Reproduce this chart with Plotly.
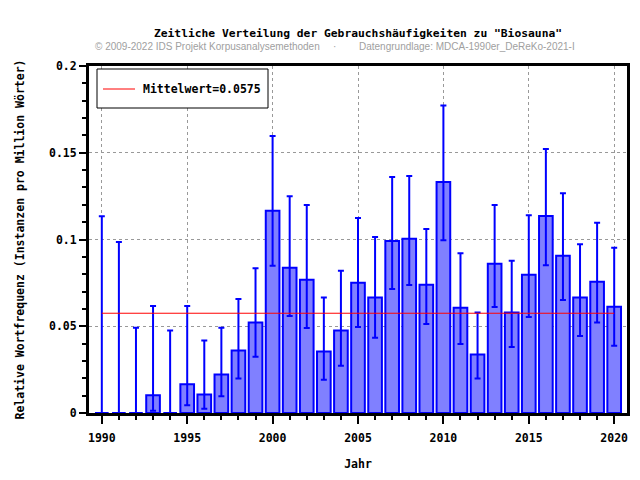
import plotly.graph_objects as go

# Jahre und relative Frequenzen (pro Million Wörter)
years = list(range(1990, 2021))
freq = [0.0, 0.0, 0.0, 0.0102, 0.0, 0.0165, 0.0107, 0.0222, 0.036, 0.0521,
        0.1165, 0.0837, 0.0768, 0.0354, 0.0475, 0.0751, 0.0665, 0.0992, 0.1004, 0.0739,
        0.1331, 0.0607, 0.0337, 0.086, 0.0579, 0.0797, 0.1136, 0.0906, 0.0665, 0.0757,
        0.0613]
err_upper = [0.1134, 0.0985, 0.0492, 0.0617, 0.0475, 0.0617, 0.0418, 0.0492, 0.0657, 0.0835,
             0.1596, 0.1249, 0.1199, 0.0665, 0.082, 0.1124, 0.1015, 0.136, 0.1366, 0.1061,
             0.1772, 0.0921, 0.0579, 0.1199, 0.0877, 0.114, 0.1521, 0.1266, 0.0973, 0.1096,
             0.0952]
err_lower = [0.0, 0.0, 0.0, 0.0013, 0.0, 0.0044, 0.0025, 0.0096, 0.0199, 0.0324,
             0.0849, 0.0559, 0.049, 0.0192, 0.0272, 0.0496, 0.0433, 0.0715, 0.0738, 0.0513,
             0.0996, 0.0398, 0.0199, 0.0611, 0.0381, 0.0554, 0.0852, 0.0651, 0.0444, 0.0521,
             0.0387]
mean_value = 0.0575
mean_label = "Mittelwert=0.0575"

mono = "DejaVu Sans Mono"

# page has an 8px body margin, so the figure is 8px smaller and everything shifts by 8
W, H = 632, 472
L, T, R, B = 81, 58, 13, 67
pw, ph = W - L - R, H - T - B


def px_x(x):
    return (x - 8 - L) / pw


def px_y(y):
    return 1 - (y - 8 - T) / ph


fig = go.Figure()

fig.add_trace(go.Scatter(
    x=[years[0], years[-1]], y=[mean_value, mean_value],
    mode="lines", line=dict(color="#ff0000", width=1),
    showlegend=False,
))

fig.add_trace(go.Bar(
    x=years, y=freq, width=0.8,
    marker=dict(color="#8080ff", line=dict(color="#0000ff", width=2)),
    error_y=dict(
        type="data", symmetric=False,
        array=[u - f for u, f in zip(err_upper, freq)],
        arrayminus=[f - l for f, l in zip(freq, err_lower)],
        color="#0000ff", thickness=2, width=3,
    ),
    showlegend=False,
))

fig.update_layout(
    width=W, height=H,
    margin=dict(l=L, r=R, t=T, b=B, autoexpand=False),
    paper_bgcolor="white", plot_bgcolor="white",
    font=dict(family=mono, size=11, color="black"),
    title=dict(
        text='<b>Zeitliche Verteilung der Gebrauchshäufigkeiten zu "Biosauna"</b>',
        x=0.5, xref="paper", xanchor="center",
        y=1 - 25 / H, yanchor="middle",
        font=dict(family=mono, size=11.3, color="black"),
    ),
    showlegend=False,
)

fig.update_xaxes(
    range=[1989.25, 2020.75],
    automargin=False,
    tickvals=list(range(1990, 2021, 5)),
    ticktext=[f"<b>{y}</b>" for y in range(1990, 2021, 5)],
    ticks="outside", ticklen=8, tickwidth=2, tickcolor="black",
    ticklabelstandoff=4,
    minor=dict(ticks="outside", tickvals=years, ticklen=4, tickwidth=2, tickcolor="black", showgrid=False),
    showline=True, linecolor="black", linewidth=3, mirror=True,
    showgrid=True, gridcolor="#999999", griddash="dot", gridwidth=1,
    zeroline=False,
    tickfont=dict(family=mono, size=11.5),
    title=dict(text="<b>Jahr</b>", font=dict(family=mono, size=11.5), standoff=17),
)
fig.update_yaxes(
    range=[0, 0.2],
    automargin=False,
    tickvals=[0, 0.05, 0.1, 0.15, 0.2],
    ticktext=["<b>0</b>", "<b>0.05</b>", "<b>0.1</b>", "<b>0.15</b>", "<b>0.2</b>"],
    ticks="outside", ticklen=7, tickwidth=2, tickcolor="black",
    minor=dict(ticks="outside", dtick=0.01, tick0=0, ticklen=4, tickwidth=2, tickcolor="black", showgrid=False),
    showline=True, linecolor="black", linewidth=3, mirror=True,
    showgrid=True, gridcolor="#999999", griddash="dot", gridwidth=1,
    zeroline=False,
    tickfont=dict(family=mono, size=11.5),
    title=dict(text="<b>Relative Wortfrequenz (Instanzen pro Million Wörter)</b>",
               font=dict(family=mono, size=11.5), standoff=22),
)

# Legende als Kasten
fig.add_shape(type="rect", xref="paper", yref="paper",
              x0=px_x(97), x1=px_x(268), y0=px_y(108), y1=px_y(69),
              line=dict(color="black", width=1), fillcolor="white", layer="above")
fig.add_shape(type="line", xref="paper", yref="paper",
              x0=px_x(103), x1=px_x(135), y0=px_y(89), y1=px_y(89),
              line=dict(color="#ff0000", width=1), layer="above")
fig.add_annotation(text=f"<b>{mean_label}</b>", xref="paper", yref="paper",
                   x=px_x(141), y=px_y(89), xanchor="left", yanchor="middle",
                   showarrow=False, font=dict(family=mono, size=11.5, color="black"))

sub_y = px_y(46)
sub_font = dict(family="Liberation Sans", size=10, color="#a0a0a0")
fig.add_annotation(text="© 2009-2022 IDS Projekt Korpusanalysemethoden", xref="paper", yref="paper",
                   x=px_x(93), y=sub_y, xanchor="left", yanchor="middle",
                   showarrow=False, font=sub_font)
fig.add_annotation(text="·", xref="paper", yref="paper",
                   x=px_x(334), y=sub_y, xanchor="center", yanchor="middle",
                   showarrow=False, font=sub_font)
fig.add_annotation(text="Datengrundlage: MDCA-1990er_DeReKo-2021-I", xref="paper", yref="paper",
                   x=px_x(357), y=sub_y, xanchor="left", yanchor="middle",
                   showarrow=False, font=sub_font)

fig.write_html("out.html")
